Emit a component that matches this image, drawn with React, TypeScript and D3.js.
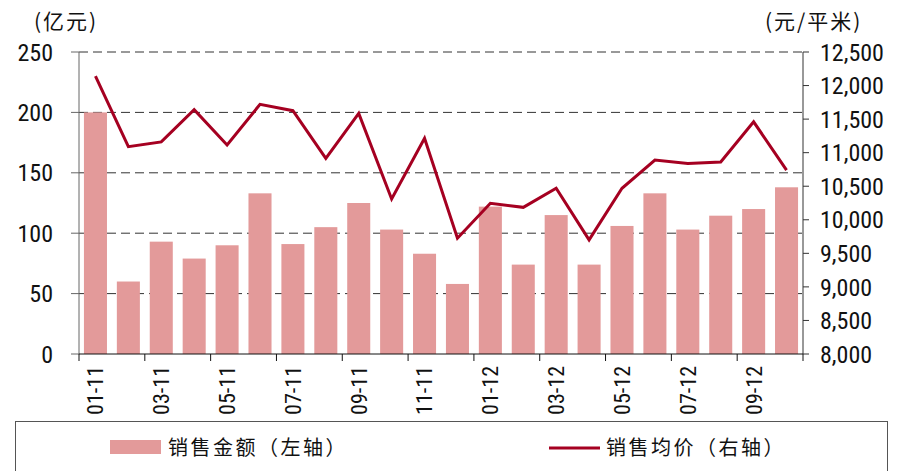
import React, { useEffect, useRef } from "react";
import * as d3 from "d3";

const months = [
  "01-11","02-11","03-11","04-11","05-11","06-11","07-11","08-11","09-11","10-11","11-11","12-11",
  "01-12","02-12","03-12","04-12","05-12","06-12","07-12","08-12","09-12","10-12",
];
const salesAmount = [200, 60, 93, 79, 90, 133, 91, 105, 125, 103, 83, 58, 122, 74, 115, 74, 106, 133, 103, 114.5, 120, 138];
const avgPrice = [12140, 11090, 11160, 11640, 11115, 11720, 11625, 10915, 11585, 10310, 11215, 9725, 10245, 10185, 10470, 9700, 10470, 10890, 10840, 10860, 11460, 10740];
const leftTicks = [0, 50, 100, 150, 200, 250];
const rightTicks = [8000, 8500, 9000, 9500, 10000, 10500, 11000, 11500, 12000, 12500];

const W = 898, H = 471;
const L = 79, R = 803, T = 52, B = 354;
const NUM_FONT = "'Liberation Sans Narrow', 'Roboto Condensed', 'Arial Narrow', sans-serif";
const CJK_FONT = "'Noto Sans CJK SC', sans-serif";

export default function App() {
  const ref = useRef<SVGSVGElement>(null);
  useEffect(() => {
    const svg = d3.select(ref.current);
    svg.selectAll("*").remove();
    const x = d3.scaleBand().domain(months).range([L, R]).paddingInner(0.3).paddingOuter(0.15);
    const yL = d3.scaleLinear().domain([0, 250]).range([B, T]);
    const yR = d3.scaleLinear().domain([8000, 12500]).range([B, T]);
    const step = x.step();

    // gridlines
    svg.append("g").selectAll("line").data(leftTicks.filter(d => d > 0)).join("line")
      .attr("x1", L).attr("x2", R).attr("y1", d => yL(d)).attr("y2", d => yL(d))
      .attr("stroke", "#333").attr("stroke-width", 1).attr("stroke-dasharray", "9,5");

    // bars
    svg.append("g").selectAll("rect").data(salesAmount).join("rect")
      .attr("x", (_, i) => x(months[i])!).attr("width", x.bandwidth())
      .attr("y", d => yL(d)).attr("height", d => B - yL(d))
      .attr("fill", "#e39a9a");

    // line
    const line = d3.line<number>().x((_, i) => x(months[i])! + x.bandwidth() / 2).y(d => yR(d));
    svg.append("path").datum(avgPrice).attr("d", line)
      .attr("fill", "none").attr("stroke", "#a50021").attr("stroke-width", 3).attr("stroke-linejoin", "miter");

    // left axis
    const gl = svg.append("g");
    gl.append("line").attr("x1", L).attr("x2", L).attr("y1", T).attr("y2", B).attr("stroke", "#666");
    gl.selectAll("line.t").data(leftTicks).join("line").attr("class", "t")
      .attr("x1", L - 8).attr("x2", L).attr("y1", d => yL(d)).attr("y2", d => yL(d)).attr("stroke", "#666");
    gl.selectAll("text").data(leftTicks).join("text")
      .attr("x", 53).attr("y", d => yL(d)).attr("dy", "0.36em").attr("text-anchor", "end")
      .attr("font-family", NUM_FONT).attr("font-size", 24).attr("fill", "#111").text(d => String(d));

    // right axis
    const gr = svg.append("g");
    gr.append("line").attr("x1", R).attr("x2", R).attr("y1", T).attr("y2", B).attr("stroke", "#333");
    gr.selectAll("line.t").data(rightTicks).join("line").attr("class", "t")
      .attr("x1", R).attr("x2", R + 6).attr("y1", d => yR(d)).attr("y2", d => yR(d)).attr("stroke", "#333");
    gr.selectAll("text").data(rightTicks).join("text")
      .attr("x", 820).attr("y", d => yR(d)).attr("dy", "0.36em").attr("text-anchor", "start")
      .attr("font-family", NUM_FONT).attr("font-size", 24).attr("fill", "#111").text(d => d3.format(",")(d));

    // x axis
    const gx = svg.append("g");
    gx.append("line").attr("x1", L).attr("x2", R).attr("y1", B).attr("y2", B).attr("stroke", "#111");
    const tickIdx = d3.range(0, months.length + 1, 2);
    gx.selectAll("line.t").data(tickIdx).join("line").attr("class", "t")
      .attr("x1", i => L + i * step).attr("x2", i => L + i * step)
      .attr("y1", B).attr("y2", B + 7).attr("stroke", "#111");
    gx.selectAll("text").data(months.filter((_, i) => i % 2 === 0)).join("text")
      .attr("transform", d => `translate(${x(d)! + x.bandwidth() / 2},366) rotate(-90)`)
      .attr("dy", "0.36em").attr("text-anchor", "end")
      .attr("font-family", NUM_FONT).attr("font-size", 22).attr("fill", "#111").text(d => d);

    // unit labels
    svg.append("text").attr("x", 34).attr("y", 29).attr("font-family", CJK_FONT).attr("font-size", 21)
      .attr("letter-spacing", 2).attr("fill", "#111").text("(亿元)");
    svg.append("text").attr("x", 765).attr("y", 29).attr("font-family", CJK_FONT).attr("font-size", 21)
      .attr("letter-spacing", 2).attr("fill", "#111").text("(元/平米)");

    // legend
    const lg = svg.append("g");
    lg.append("rect").attr("x", 15.5).attr("y", 421.5).attr("width", 872).attr("height", 60)
      .attr("fill", "none").attr("stroke", "#555");
    lg.append("rect").attr("x", 110).attr("y", 440).attr("width", 51).attr("height", 14).attr("fill", "#e39a9a");
    lg.append("text").attr("x", 168).attr("y", 455).attr("font-family", CJK_FONT).attr("font-size", 20)
      .attr("letter-spacing", 2.5).attr("fill", "#111").text("销售金额（左轴）");
    lg.append("line").attr("x1", 549).attr("x2", 600).attr("y1", 448).attr("y2", 448)
      .attr("stroke", "#a50021").attr("stroke-width", 3);
    lg.append("text").attr("x", 606).attr("y", 455).attr("font-family", CJK_FONT).attr("font-size", 20)
      .attr("letter-spacing", 2.5).attr("fill", "#111").text("销售均价（右轴）");
  }, []);
  return (
    <svg ref={ref} width={W} height={H} style={{ position: "absolute", left: 0, top: 0, background: "#fff" }} />
  );
}
